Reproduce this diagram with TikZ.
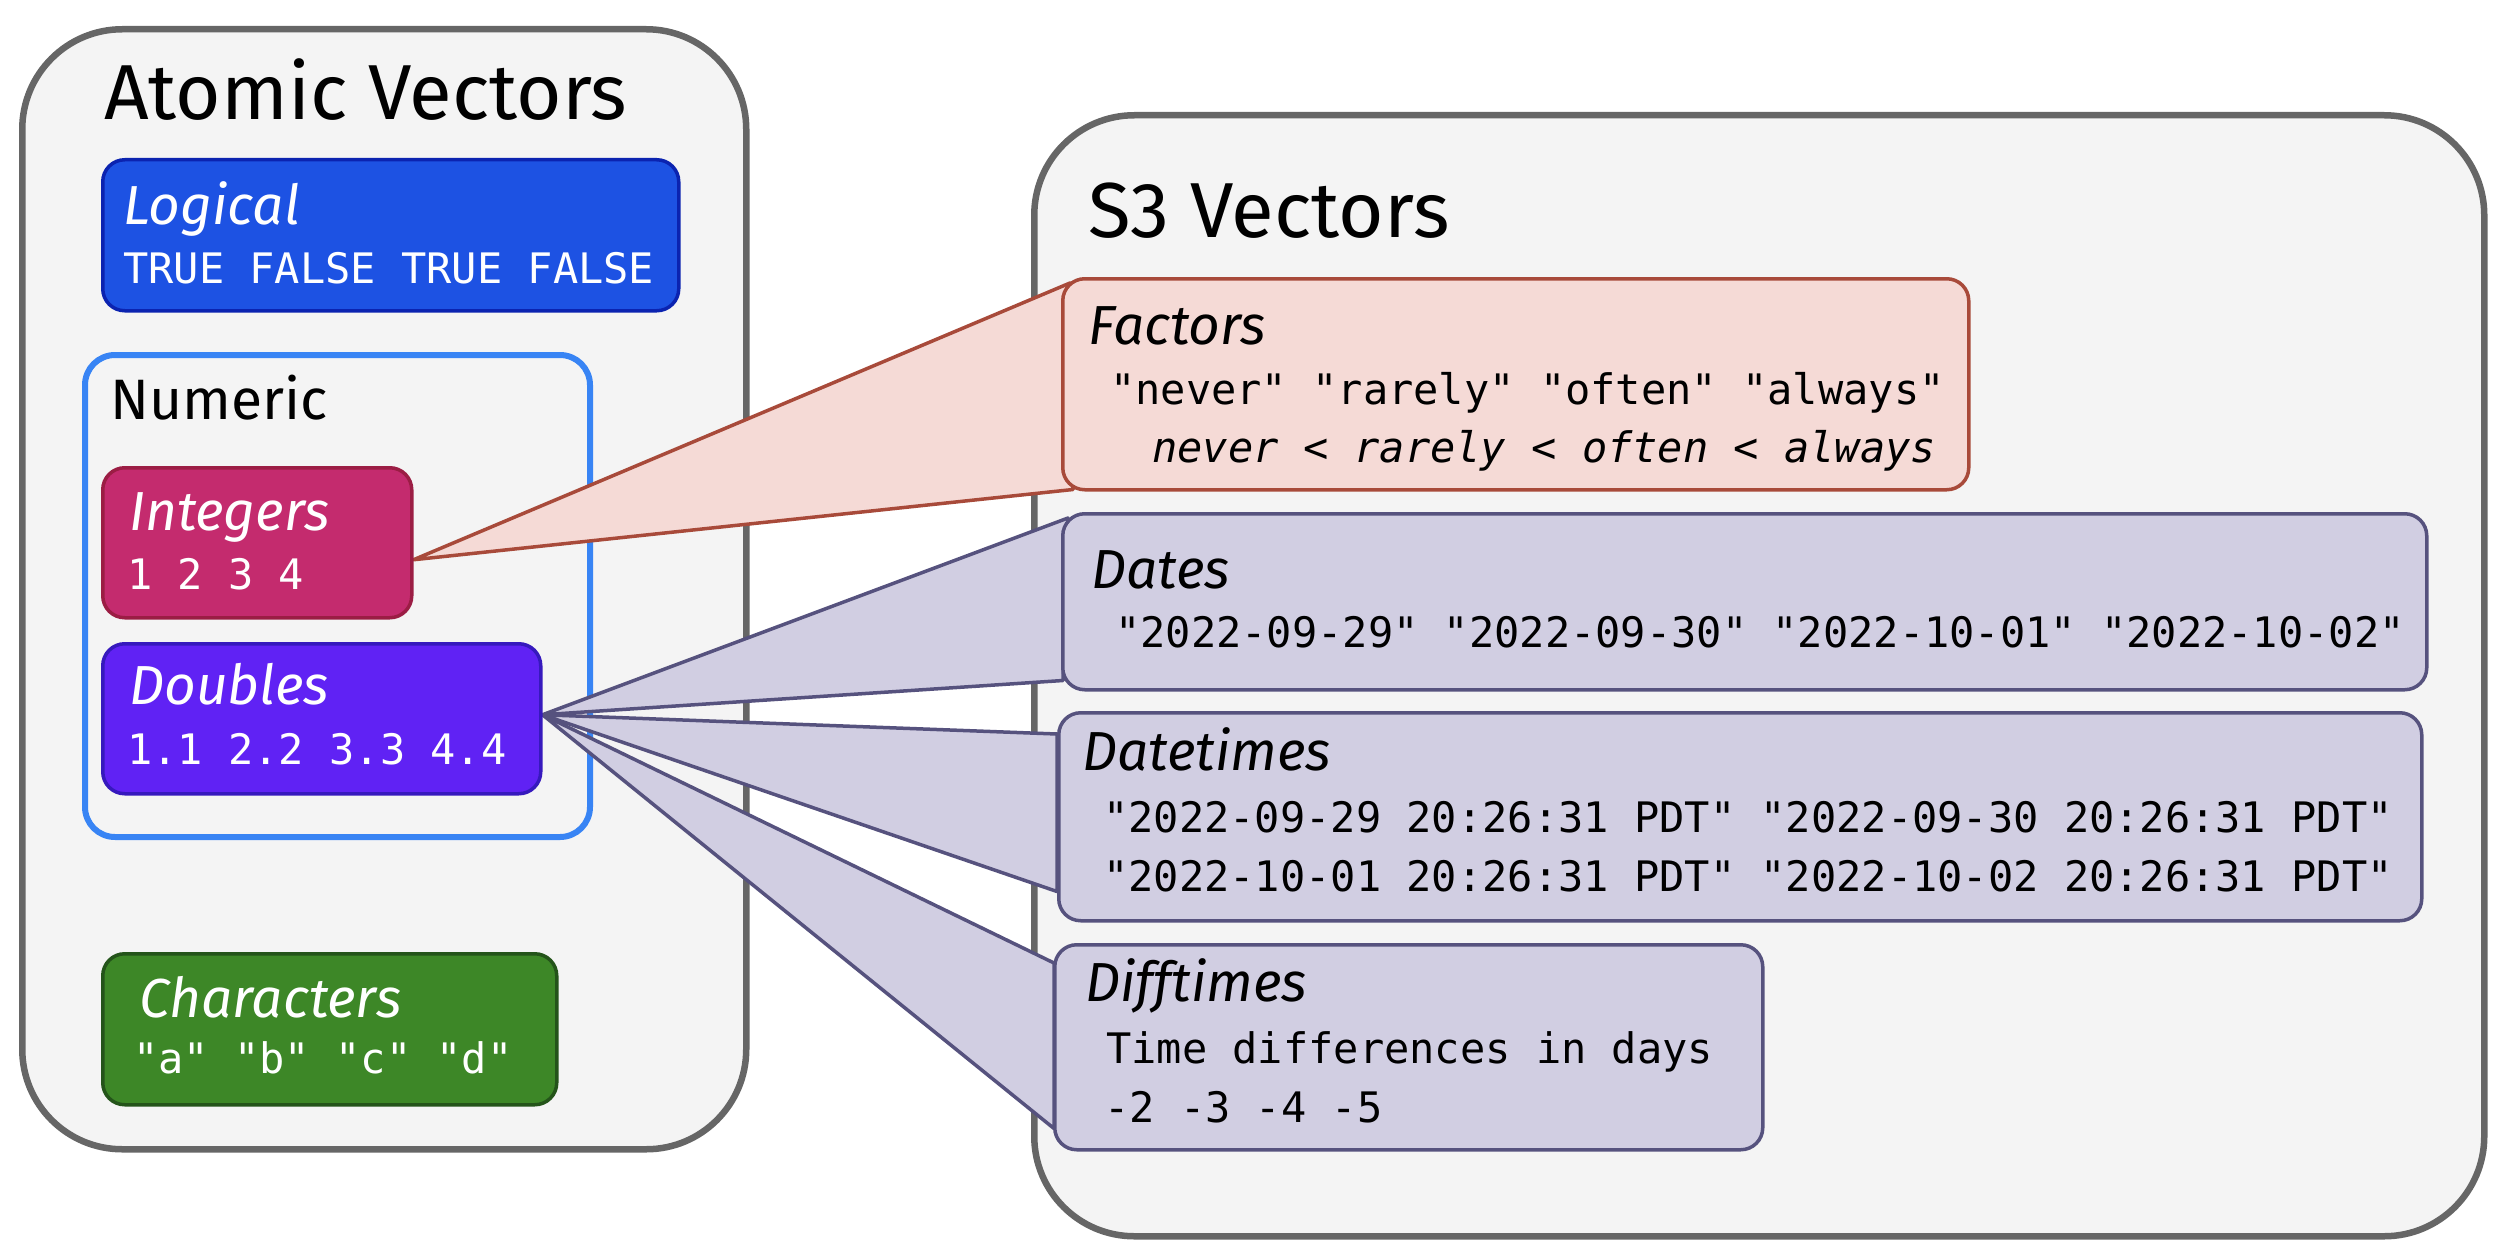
\documentclass[tikz,border=0pt]{standalone}
\usepackage{fontspec}
\setmainfont{Fira Sans}
\newfontfamily\monof{DejaVu Sans Mono}
\usetikzlibrary{calc}
\pgfdeclarelayer{bg}
\pgfdeclarelayer{conn}
\pgfsetlayers{bg,conn,main}
\definecolor{panelfill}{HTML}{F4F4F4}
\definecolor{paneldraw}{HTML}{666666}
\definecolor{logfill}{HTML}{1D52E3}
\definecolor{logdraw}{HTML}{0B23B0}
\definecolor{numdraw}{HTML}{3884F4}
\definecolor{intfill}{HTML}{C42B6E}
\definecolor{intdraw}{HTML}{9B1D44}
\definecolor{dblfill}{HTML}{6022F4}
\definecolor{dbldraw}{HTML}{3619BD}
\definecolor{chrfill}{HTML}{3D8727}
\definecolor{chrdraw}{HTML}{24541A}
\definecolor{facfill}{HTML}{F5DAD6}
\definecolor{facdraw}{HTML}{A84A3A}
\definecolor{s3fill}{HTML}{D1CEE2}
\definecolor{s3draw}{HTML}{56527E}
\tikzset{
  panel/.style={draw=paneldraw, fill=panelfill, line width=6.5pt, rounded corners=100pt, anchor=north west, inner sep=0pt},
  vbox/.style={line width=3.5pt, rounded corners=22pt, anchor=north west, inner sep=0pt},
  conn/.style={line width=3.5pt, line join=round},
  bigtitle/.style={anchor=base west, inner sep=0pt, font=\fontsize{78}{90}\selectfont},
  boxtitle/.style={anchor=base west, inner sep=0pt, font=\fontsize{55}{64}\selectfont\itshape},
  vals/.style={anchor=base west, inner sep=0pt, font=\monof\fontsize{42}{50}\selectfont},
}
\begin{document}
\begin{tikzpicture}[x=1pt, y=-1pt]
\useasboundingbox (0,0) rectangle (2510,1260);
\begin{pgfonlayer}{bg}
\node[panel, minimum width=724pt, minimum height=1120pt] (atomic) at (19,26) {};
\node[panel, minimum width=1450pt, minimum height=1121pt] (s3) at (1031,112) {};
\node[draw=numdraw, line width=6pt, rounded corners=30pt, anchor=north west, inner sep=0pt,
      minimum width=505pt, minimum height=482pt] (numeric) at (82,352) {};
\end{pgfonlayer}

% inner boxes
\node[vbox, fill=logfill, draw=logdraw, minimum width=576pt, minimum height=151pt] (logical) at (101,158) {};
\node[vbox, fill=intfill, draw=intdraw, minimum width=309pt, minimum height=150pt] (integers) at (101,466) {};
\node[vbox, fill=dblfill, draw=dbldraw, minimum width=438pt, minimum height=150pt] (doubles) at (101,642) {};
\node[vbox, fill=chrfill, draw=chrdraw, minimum width=454pt, minimum height=151pt] (characters) at (101,952) {};
\node[vbox, fill=facfill, draw=facdraw, minimum width=906pt, minimum height=211pt] (factors) at (1061,277) {};
\node[vbox, fill=s3fill, draw=s3draw, minimum width=1364pt, minimum height=176pt] (dates) at (1061,512) {};
\node[vbox, fill=s3fill, draw=s3draw, minimum width=1363pt, minimum height=208pt] (datetimes) at (1057,711) {};
\node[vbox, fill=s3fill, draw=s3draw, minimum width=708pt, minimum height=205pt] (difftimes) at (1053,943) {};

% connectors
\coordinate (intapex) at ($(integers.east)+(0,17)$);
\coordinate (dblapex) at ($(doubles.east)+(0,-4)$);
\begin{pgfonlayer}{conn}
\filldraw[conn, fill=facfill, draw=facdraw] (intapex) -- ($(factors.north west)+(9,6)$) -- ($(factors.south west)+(12,-2)$) -- cycle;
\filldraw[conn, fill=s3fill, draw=s3draw] (dblapex) -- ($(dates.north west)+(7,6)$) -- ($(dates.south west)+(2,-11)$) -- cycle;
\filldraw[conn, fill=s3fill, draw=s3draw] (dblapex) -- ($(datetimes.north west)+(0,23)$) -- ($(datetimes.south west)+(0,-31)$) -- cycle;
\filldraw[conn, fill=s3fill, draw=s3draw] (dblapex) -- ($(difftimes.north west)+(1,20)$) -- ($(difftimes.south west)+(1,-23)$) -- cycle;
\end{pgfonlayer}

% titles
\node[bigtitle] (atomictitle) at (104,120) {Atomic Vectors};
\node[bigtitle] (s3title) at (1088,237) {S3 Vectors};
\node[anchor=base west, inner sep=0pt, font=\fontsize{57}{66}\selectfont] (numerictitle) at (110,419) {Numeric};

% left box texts
\node[boxtitle, text=white] (logicaltitle) at (123,224) {Logical};
\node[vals, text=white] (logicalvals) at (123,283) {TRUE FALSE TRUE FALSE};
\node[boxtitle, text=white] (integerstitle) at (129,530) {Integers};
\node[vals, text=white] (integersvals) at (127,589) {1 2 3 4};
\node[boxtitle, text=white] (doublestitle) at (129,704) {Doubles};
\node[vals, text=white] (doublesvals) at (127,764) {1.1 2.2 3.3 4.4};
\node[boxtitle, text=white] (characterstitle) at (139,1017) {Characters};
\node[vals, text=white] (charactersvals) at (133,1073) {"a" "b" "c" "d"};

% right box texts
\node[boxtitle] (factorstitle) at (1088,344) {Factors};
\node[vals] (factorsvals) at (1110,404) {"never" "rarely" "often" "always"};
\node[vals, font=\monof\fontsize{42}{50}\selectfont\itshape] (factorslevels) at (1152,462) {never < rarely < often < always};
\node[boxtitle] (datestitle) at (1091,588) {Dates};
\node[vals] (datesvals) at (1115,647) {"2022-09-29" "2022-09-30" "2022-10-01" "2022-10-02"};
\node[boxtitle] (datetimestitle) at (1082,770) {Datetimes};
\node[vals] (datetimesvals1) at (1103,832) {"2022-09-29 20:26:31 PDT" "2022-09-30 20:26:31 PDT"};
\node[vals] (datetimesvals2) at (1103,891) {"2022-10-01 20:26:31 PDT" "2022-10-02 20:26:31 PDT"};
\node[boxtitle] (difftimestitle) at (1085,1001) {Difftimes};
\node[vals] (difftimesvals1) at (1106,1063) {Time differences in days};
\node[vals] (difftimesvals2) at (1104,1122) {-2 -3 -4 -5};
\end{tikzpicture}
\end{document}
